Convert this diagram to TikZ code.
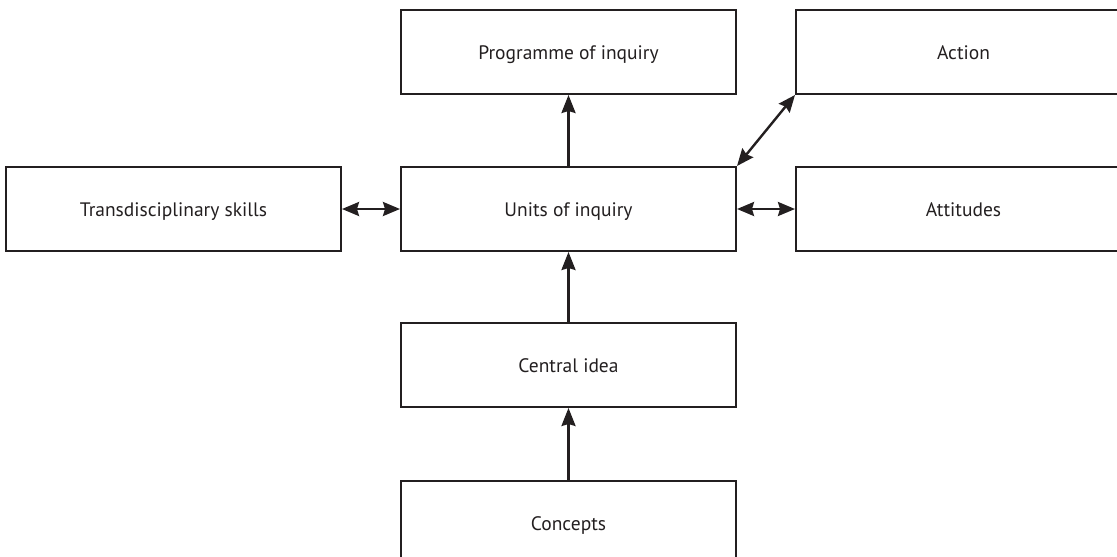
\documentclass[tikz,border=0pt]{standalone}
\usepackage{fontspec}
\setmainfont{PT Sans}
\usepackage{tikz}
\usetikzlibrary{positioning}
\usetikzlibrary{arrows.meta}
\usepackage{xcolor}
\definecolor{ink}{HTML}{231F20}

\begin{document}
\begin{tikzpicture}[box/.style = {draw=ink, line width=2pt, rectangle, minimum width=335pt, minimum height=84pt, inner sep=0pt, text height=14pt, text depth=0pt, font=\fontsize{19.5}{23}\selectfont, text=ink},
  link/.style = {draw=ink, line width=2.4pt, -{Stealth[length=18pt,width=14pt,inset=2pt]}},
  both/.style = {draw=ink, line width=2.4pt, {Stealth[length=17pt,width=14pt,inset=2pt]}-{Stealth[length=17pt,width=14pt,inset=2pt]}},
  node distance=71pt and 58pt]
\useasboundingbox (0,0) rectangle (1117pt,-557pt);
\node[box] (units) at (568.5pt,-209pt) {Units of inquiry};
\node[box] (prog) [above=of units] {Programme of inquiry};
\node[box] (skills) [left=of units] {Transdisciplinary skills};
\node[box] (att) [right=of units] {Attitudes};
\node[box] (action) [above=of att] {Action};
\node[box] (idea) [below=70pt of units] {Central idea};
\node[box] (conc) [below=72pt of idea] {Concepts};
\path (units) edge [link] (prog);
\path (idea) edge [link] (units);
\path (conc) edge [link] (idea);
\path (skills) edge [both] (units);
\path (units) edge [both] (att);
\path (units.north east) edge [both] (action.south west);
\end{tikzpicture}
\end{document}
